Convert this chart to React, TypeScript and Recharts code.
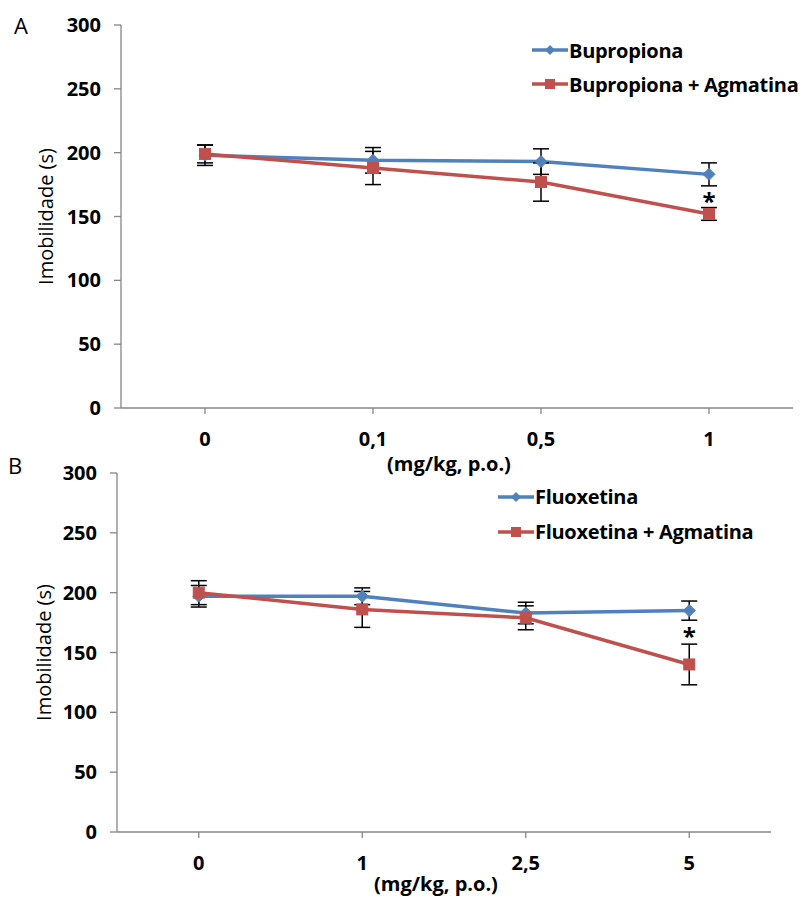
import React from 'react';
import { ComposedChart, Line, XAxis, YAxis, ErrorBar, Legend, LabelList } from 'recharts';

// ---------- Data ----------
const catsA = ['0', '0,1', '0,5', '1'];
const bupA = [198, 194, 193, 183];
const bupErrA = [8, 10, 10, 9];
const bupAgA = [199, 188, 177, 152];
const bupAgErrA = [7, 13, 15, 5];
const sigA: (number | null)[] = [null, null, null, 165];

const catsB = ['0', '1', '2,5', '5'];
const fluB = [197, 197, 183, 185];
const fluErrB = [9, 7, 9, 8];
const fluAgB = [200, 186, 179, 140];
const fluAgErrB = [10, 15, 10, 17];
const sigB: (number | null)[] = [null, null, null, 167];

const yTicks = [0, 50, 100, 150, 200, 250, 300];

const dataA = catsA.map((c, i) => ({ cat: c, a: bupA[i], aErr: bupErrA[i], b: bupAgA[i], bErr: bupAgErrA[i], sig: sigA[i] }));
const dataB = catsB.map((c, i) => ({ cat: c, a: fluB[i], aErr: fluErrB[i], b: fluAgB[i], bErr: fluAgErrB[i], sig: sigB[i] }));

const FONT = '"Open Sans", sans-serif';
const BLUE = '#4F81BD';
const RED = '#C0504D';
const AXIS = '#868686';

const Diamond = (props: any) => {
  const { cx, cy, index } = props;
  if (cx == null || cy == null) return <g key={`d${index}`} />;
  const r = 6;
  return <path key={`d${index}`} d={`M${cx},${cy - r}L${cx + r},${cy}L${cx},${cy + r}L${cx - r},${cy}Z`} fill={BLUE} stroke={BLUE} />;
};
const Square = (props: any) => {
  const { cx, cy, index } = props;
  if (cx == null || cy == null) return <g key={`s${index}`} />;
  const s = 5.5;
  return <rect key={`s${index}`} x={cx - s} y={cy - s} width={2 * s} height={2 * s} fill={RED} stroke={RED} />;
};

const makeLegend = (rowH: number) => (props: any) => {
  const payload = (props.payload || []).filter((p: any) => p.dataKey !== 'sig');
  return (
    <div style={{ fontFamily: FONT, fontWeight: 700, fontSize: 20, color: '#000' }}>
      {payload.map((p: any) => (
        <div key={p.value} style={{ display: 'flex', alignItems: 'center', height: rowH, whiteSpace: 'nowrap' }}>
          <svg width={36} height={14} style={{ marginRight: 1 }}>
            <line x1={0} y1={7} x2={36} y2={7} stroke={p.color} strokeWidth={3.5} />
            {p.dataKey === 'a' ? (
              <path d="M18,2L23,7L18,12L13,7Z" fill={p.color} />
            ) : (
              <rect x={13} y={2} width={10} height={10} fill={p.color} />
            )}
          </svg>
          <span style={{ letterSpacing: -0.3 }}>{p.value}</span>
        </div>
      ))}
    </div>
  );
};

const Asterisk = (props: any) => {
  const { x, y, value, index } = props;
  if (value == null || x == null || y == null) return null;
  return (
    <text key={`ast${index}`} x={x} y={y + 13} textAnchor="middle" fontFamily={FONT} fontWeight={700} fontSize={24} fill="#000">*</text>
  );
};

type PanelProps = {
  data: any[];
  width: number;
  height: number;
  margin: { top: number; right: number; left: number; bottom: number };
  yWidth: number;
  xHeight: number;
  nameA: string;
  nameB: string;
  legendPos: { left: number; top: number };
  rowH: number;
  xTitleY: number;
  yTitleX: number;
};

const Panel = (p: PanelProps) => (
  <ComposedChart width={p.width} height={p.height} data={p.data} margin={p.margin}>
    <XAxis
      dataKey="cat"
      type="category"
      scale="band"
      interval={0}
      height={p.xHeight}
      stroke={AXIS}
      axisLine={{ stroke: AXIS, strokeWidth: 1.3 }}
      tickLine={{ stroke: AXIS, strokeWidth: 1.3 }}
      tickSize={6}
      tickMargin={18}
      tick={{ fill: '#000', fontFamily: FONT, fontWeight: 700, fontSize: 20 }}
      label={{
        content: (lp: any) => {
          const vb = lp.viewBox || {};
          return (
            <text x={vb.x + vb.width / 2 - 8} y={p.xTitleY} textAnchor="middle" dominantBaseline="central" fontFamily={FONT} fontWeight={700} fontSize={20} fill="#000">(mg/kg, p.o.)</text>
          );
        },
      }}
    />
    <YAxis
      type="number"
      domain={[0, 300]}
      ticks={yTicks}
      interval={0}
      width={p.yWidth}
      axisLine={{ stroke: AXIS, strokeWidth: 1.3 }}
      tickLine={{ stroke: AXIS, strokeWidth: 1.3 }}
      tickSize={7}
      tickMargin={13}
      tick={{ fill: '#000', fontFamily: FONT, fontWeight: 700, fontSize: 20 }}
      label={{
        content: (lp: any) => {
          const vb = lp.viewBox || {};
          const cy = vb.y + vb.height / 2;
          return (
            <text x={p.yTitleX} y={cy} transform={`rotate(-90 ${p.yTitleX} ${cy})`} textAnchor="middle" dominantBaseline="central" fontFamily={FONT} fontSize={20} fill="#000">Imobilidade (s)</text>
          );
        },
      }}
    />
    <Legend
      layout="vertical"
      align="center"
      verticalAlign="middle"
      content={makeLegend(p.rowH)}
      wrapperStyle={{ position: 'absolute', left: p.legendPos.left, top: p.legendPos.top, width: 280 }}
    />
    <Line dataKey="a" name={p.nameA} stroke={BLUE} strokeWidth={3.5} dot={Diamond} activeDot={false} isAnimationActive={false}>
      <ErrorBar dataKey="aErr" direction="y" width={8} stroke="#000" strokeWidth={1.5} />
    </Line>
    <Line dataKey="b" name={p.nameB} stroke={RED} strokeWidth={3.5} dot={Square} activeDot={false} isAnimationActive={false}>
      <ErrorBar dataKey="bErr" direction="y" width={8} stroke="#000" strokeWidth={1.5} />
    </Line>
    <Line dataKey="sig" stroke="none" dot={false} activeDot={false} legendType="none" isAnimationActive={false}>
      <LabelList dataKey="sig" content={Asterisk} />
    </Line>
  </ComposedChart>
);

export default function App() {
  return (
    <div style={{ position: 'absolute', left: 0, top: 0, width: 802, height: 899, background: '#fff', fontFamily: FONT }}>
      <div style={{ position: 'absolute', left: 0, top: 0 }}>
        <Panel
          data={dataA}
          width={802}
          height={478}
          margin={{ top: 25, right: 9, left: 0, bottom: 0 }}
          yWidth={121}
          xHeight={70}
          nameA="Bupropiona"
          nameB="Bupropiona + Agmatina"
          legendPos={{ left: 532, top: 33 }}
          rowH={34}
          xTitleY={463}
          yTitleX={45}
        />
        <div style={{ position: 'absolute', left: 14, top: 10, fontFamily: FONT, fontSize: 22, color: '#000' }}>A</div>
      </div>
      <div style={{ position: 'absolute', left: 0, top: 450 }}>
        <Panel
          data={dataB}
          width={802}
          height={449}
          margin={{ top: 23, right: 31, left: 0, bottom: 0 }}
          yWidth={117}
          xHeight={67}
          nameA="Fluoxetina"
          nameB="Fluoxetina + Agmatina"
          legendPos={{ left: 498, top: 29 }}
          rowH={35}
          xTitleY={433}
          yTitleX={43}
        />
        <div style={{ position: 'absolute', left: 8, top: 0, fontFamily: FONT, fontSize: 22, color: '#000' }}>B</div>
      </div>
    </div>
  );
}
